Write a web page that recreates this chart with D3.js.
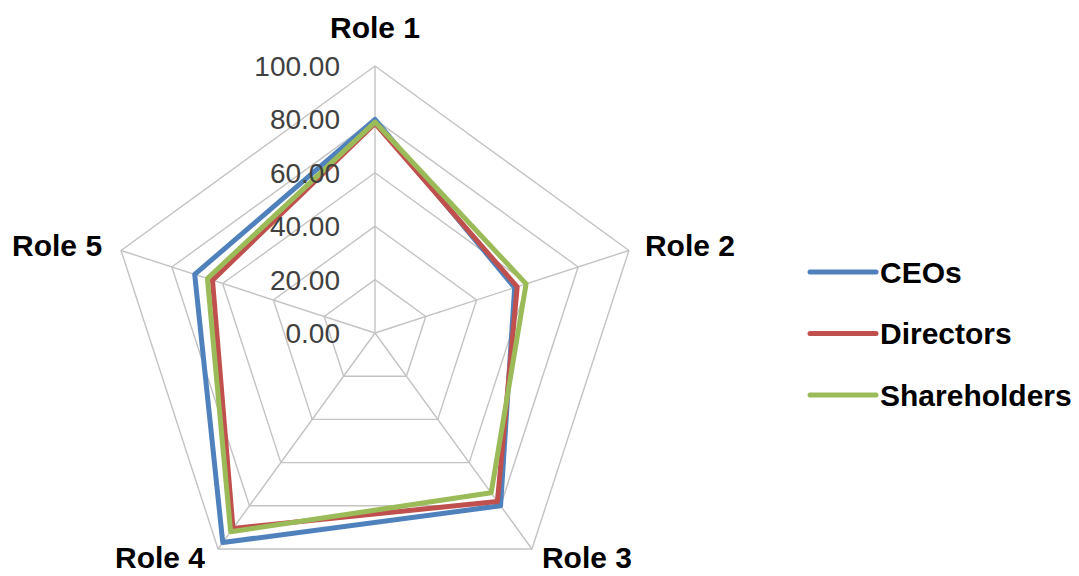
<!DOCTYPE html>
<html>
<head>
<meta charset="utf-8">
<script src="https://cdn.jsdelivr.net/npm/d3@7"></script>
<style>
  html, body { margin: 0; padding: 0; background: #fff; }
  svg { display: block; }
</style>
</head>
<body>
<svg id="chart" width="1079" height="576"></svg>
<script>
// Axes of the radar, clockwise from the top
const roles = ["Role 1", "Role 2", "Role 3", "Role 4", "Role 5"];
const seriesNames = ["CEOs", "Directors", "Shareholders"];
const ceos = [80, 55, 80, 97, 71];
const directors = [78.5, 56, 78, 90.5, 64];
const shareholders = [79, 59.5, 74, 92, 66];
const tickValues = [0, 20, 40, 60, 80, 100];
const colors = ["#4F81BD", "#C0504D", "#9BBB59"];

const series = [ceos, directors, shareholders].map((v, i) => ({ name: seriesNames[i], values: v, color: colors[i] }));

const svg = d3.select("#chart");
const cx = 375, cy = 333, R = 267;
const font = "Liberation Sans, Arial, sans-serif";

const r = d3.scaleLinear().domain([0, 100]).range([0, R]);
const angle = d3.scalePoint().domain(roles).range([0, 2 * Math.PI * (roles.length - 1) / roles.length]);

function pt(role, v) {
  const a = angle(role);
  return [cx + r(v) * Math.sin(a), cy - r(v) * Math.cos(a)];
}

// Pentagon gridlines
const grid = svg.append("g");
tickValues.filter(t => t > 0).forEach(t => {
  grid.append("path")
    .attr("d", d3.line()(roles.map(ro => pt(ro, t))) + "Z")
    .attr("fill", "none")
    .attr("stroke", "#c3c3c3")
    .attr("stroke-width", 1.4);
});
// Spokes
roles.forEach(ro => {
  const [x, y] = pt(ro, 100);
  grid.append("line")
    .attr("x1", cx).attr("y1", cy).attr("x2", x).attr("y2", y)
    .attr("stroke", "#c3c3c3")
    .attr("stroke-width", 1.4);
});

// Series polygons
const lineGen = d3.line().curve(d3.curveLinearClosed);
svg.append("g").selectAll("path")
  .data(series)
  .join("path")
  .attr("d", d => lineGen(d.values.map((v, i) => pt(roles[i], v))))
  .attr("fill", "none")
  .attr("stroke", d => d.color)
  .attr("stroke-width", 5)
  .attr("stroke-linejoin", "round");

// Value labels along the first axis
svg.append("g").selectAll("text")
  .data(tickValues)
  .join("text")
  .attr("x", cx - 35)
  .attr("y", d => cy - r(d))
  .attr("dy", "0.36em")
  .attr("text-anchor", "end")
  .attr("font-family", font)
  .attr("font-size", 28)
  .attr("fill", "#404040")
  .text(d => d3.format(".2f")(d));

// Axis labels: [dx, dy, anchor] relative to the outer vertex
const labelOffsets = {
  "Role 1": [0, -39, "middle"],
  "Role 2": [16, -5.5, "start"],
  "Role 3": [10, 8, "start"],
  "Role 4": [-13, 8, "end"],
  "Role 5": [-19, -5.5, "end"]
};
svg.append("g").selectAll("text")
  .data(roles)
  .join("text")
  .attr("x", d => pt(d, 100)[0] + labelOffsets[d][0])
  .attr("y", d => pt(d, 100)[1] + labelOffsets[d][1])
  .attr("dy", "0.36em")
  .attr("text-anchor", d => labelOffsets[d][2])
  .attr("font-family", font)
  .attr("font-weight", "bold")
  .attr("font-size", 30)
  .attr("fill", "#000")
  .text(d => d);

// Legend
const legend = svg.append("g").attr("transform", "translate(810,272)");
const items = legend.selectAll("g")
  .data(series)
  .join("g")
  .attr("transform", (d, i) => `translate(0,${i * 61.5})`);
items.append("line")
  .attr("x1", 0).attr("x2", 66).attr("y1", 0).attr("y2", 0)
  .attr("stroke", d => d.color)
  .attr("stroke-width", 5)
  .attr("stroke-linecap", "round");
items.append("text")
  .attr("x", 70)
  .attr("dy", "0.36em")
  .attr("font-family", font)
  .attr("font-weight", "bold")
  .attr("font-size", 30)
  .attr("fill", "#000")
  .text(d => d.name);
</script>
</body>
</html>
